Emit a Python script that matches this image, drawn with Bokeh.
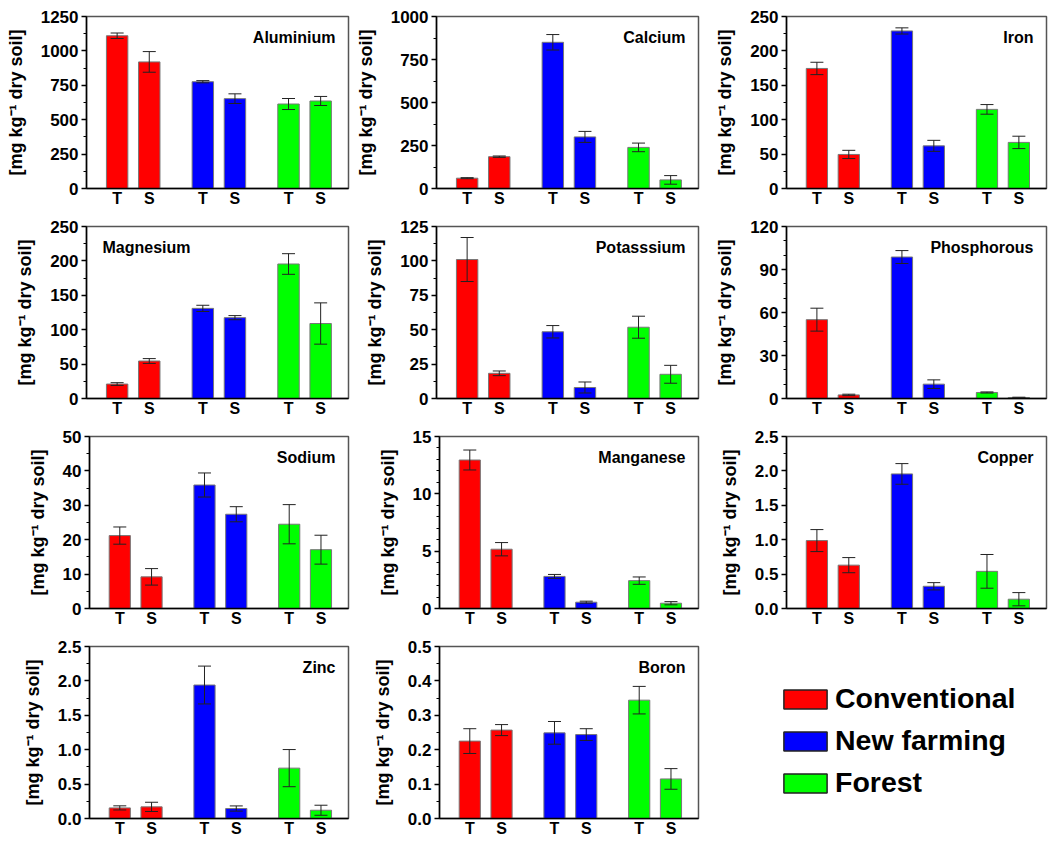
from bokeh.plotting import figure
from bokeh.models import (ColumnDataSource, Whisker, TeeHead, Label, Legend, LegendItem,
                          FixedTicker, Range1d, PrintfTickFormatter)
from bokeh.layouts import column, row
from bokeh.embed import file_html
from bokeh.resources import INLINE

# ---------------- data ----------------
systems = ["Conventional", "New farming", "Forest"]
colors = ["#FF0000", "#0000FF", "#00FF00"]
layers = ["T", "S"]

elements = ["Aluminium", "Calcium", "Iron", "Magnesium", "Potasssium", "Phosphorous",
            "Sodium", "Manganese", "Copper", "Zinc", "Boron"]

# order of values: Conventional T, Conventional S, New farming T, New farming S, Forest T, Forest S
aluminium = [1110, 920, 776, 653, 614, 636]
aluminium_err = [20, 75, 8, 35, 40, 33]
calcium = [60, 185, 850, 300, 239, 50]
calcium_err = [3, 4, 45, 32, 25, 25]
iron = [174.5, 49.5, 229, 62, 115, 67]
iron_err = [9, 6, 4.5, 8, 7, 9]
magnesium = [21, 54.5, 131, 117.5, 195.5, 109]
magnesium_err = [2, 3.5, 4.5, 3, 15, 30]
potassium = [101, 18.3, 48.5, 8, 51.8, 17.6]
potassium_err = [16, 1.7, 4.5, 4, 8, 6.5]
phosphorus = [55, 2.5, 98.7, 10, 4.2, 0.7]
phosphorus_err = [8, 0.5, 4.5, 3, 0.4, 0.2]
sodium = [21.2, 9.2, 35.9, 27.4, 24.5, 17.1]
sodium_err = [2.5, 2.4, 3.5, 2.2, 5.7, 4.2]
manganese = [12.95, 5.17, 2.8, 0.55, 2.43, 0.46]
manganese_err = [0.87, 0.58, 0.17, 0.09, 0.32, 0.14]
copper = [0.987, 0.63, 1.956, 0.323, 0.54, 0.135]
copper_err = [0.16, 0.11, 0.15, 0.053, 0.245, 0.096]
zinc = [0.154, 0.169, 1.94, 0.145, 0.732, 0.12]
zinc_err = [0.03, 0.067, 0.275, 0.038, 0.27, 0.073]
boron = [0.225, 0.257, 0.249, 0.244, 0.344, 0.115]
boron_err = [0.036, 0.016, 0.033, 0.017, 0.04, 0.03]

means = [aluminium, calcium, iron, magnesium, potassium, phosphorus,
         sodium, manganese, copper, zinc, boron]
errors = [aluminium_err, calcium_err, iron_err, magnesium_err, potassium_err, phosphorus_err,
          sodium_err, manganese_err, copper_err, zinc_err, boron_err]

y_max = [1250, 1000, 250, 250, 125, 120, 50, 15, 2.5, 2.5, 0.5]
y_step = [250, 250, 50, 50, 25, 30, 10, 5, 0.5, 0.5, 0.1]
y_minor_div = [2, 2, 2, 2, 2, 3, 2, 5, 2, 2, 2]
y_fmt = ["%d", "%d", "%d", "%d", "%d", "%d", "%d", "%d", "%.1f", "%.1f", "%.1f"]
title_left = [False, False, False, True, False, False, False, False, False, False, False]

y_label = "[mg kg\u207b\u00b9 dry soil]"

# ---------------- layout ----------------
FONT = "Liberation Sans"
col_w = [350, 350, 348]
frame_left = [86, 86, 86, 86, 86, 86, 89, 89, 86, 89, 89]
frame_right_edge = [348, 348, 346]
TOP = 16
FRAME_H = 172
BOTTOM = 22

GROUP_STEP = 8
LAYER_STEP = 3
positions = [g * GROUP_STEP + l * LAYER_STEP for g in range(len(systems)) for l in range(len(layers))]
bar_colors = [colors[g] for g in range(len(systems)) for _ in layers]
tick_labels = [layers[l] for _ in systems for l in range(len(layers))]


def make_panel(i):
    r, c = divmod(i, 3)
    left = frame_left[i]
    fw = frame_right_edge[c] - left
    p = figure(frame_width=fw, frame_height=FRAME_H, output_backend="svg", toolbar_location=None,
               min_border_left=left, min_border_right=col_w[c] - left - fw,
               min_border_top=TOP, min_border_bottom=BOTTOM,
               x_range=Range1d(-2.86, 21.6), y_range=Range1d(0, y_max[i]))
    p.background_fill_color = "white"
    p.border_fill_color = "white"
    p.grid.visible = False
    p.outline_line_color = "#555555"
    p.outline_line_width = 1.5

    m = means[i]
    e = errors[i]
    src = ColumnDataSource(dict(x=positions, top=m, color=bar_colors,
                                lower=[a - b for a, b in zip(m, e)],
                                upper=[a + b for a, b in zip(m, e)]))
    p.vbar(x="x", top="top", bottom=0, width=2.0, fill_color="color", line_color="#777777",
           line_width=1, source=src)
    w = Whisker(source=src, base="x", upper="upper", lower="lower", level="overlay",
                line_color="#222222", line_width=1,
                upper_head=TeeHead(size=13, line_color="#222222", line_width=1),
                lower_head=TeeHead(size=13, line_color="#222222", line_width=1))
    p.add_layout(w)

    # y axis
    ya = p.yaxis[0]
    ticks = []
    minors = []
    k = 0
    while k * y_step[i] <= y_max[i] + 1e-9:
        ticks.append(round(k * y_step[i], 6))
        k += 1
    for t in ticks[:-1]:
        for j in range(1, y_minor_div[i]):
            minors.append(t + j * y_step[i] / y_minor_div[i])
    ya.ticker = FixedTicker(ticks=ticks, minor_ticks=minors)
    ya.formatter = PrintfTickFormatter(format=y_fmt[i])
    ya.axis_line_color = "black"
    ya.axis_line_width = 1.5
    ya.major_tick_line_color = "black"
    ya.major_tick_line_width = 1.5
    ya.major_tick_out = 5
    ya.major_tick_in = 0
    ya.minor_tick_line_color = "black"
    ya.minor_tick_line_width = 1
    ya.minor_tick_out = 3
    ya.minor_tick_in = 0
    ya.major_label_text_font = FONT
    ya.major_label_text_font_style = "bold"
    ya.major_label_text_font_size = "17px"
    ya.major_label_text_color = "black"
    ya.major_label_standoff = 3
    ya.axis_label = y_label
    ya.axis_label_text_font = FONT
    ya.axis_label_text_font_style = "bold"
    ya.axis_label_text_font_size = "18px"
    ya.axis_label_text_color = "black"
    ya.axis_label_standoff = 12

    # x axis with T / S category labels
    xa = p.xaxis[0]
    xa.ticker = FixedTicker(ticks=positions)
    xa.major_label_overrides = {pos: lab for pos, lab in zip(positions, tick_labels)}
    xa.axis_line_color = "black"
    xa.axis_line_width = 1.5
    xa.major_tick_line_color = None
    xa.minor_tick_line_color = None
    xa.major_tick_out = 0
    xa.major_tick_in = 0
    xa.minor_tick_out = 0
    xa.major_label_text_font = FONT
    xa.major_label_text_font_style = "bold"
    xa.major_label_text_font_size = "16px"
    xa.major_label_text_color = "black"
    xa.major_label_standoff = 1

    if title_left[i]:
        lab = Label(x=16, y=FRAME_H - 12, x_units="screen", y_units="screen", text=elements[i],
                    text_align="left", text_baseline="top")
    else:
        lab = Label(x=fw - 13, y=FRAME_H - 12, x_units="screen", y_units="screen", text=elements[i],
                    text_align="right", text_baseline="top")
    lab.text_font = FONT
    lab.text_font_style = "bold"
    lab.text_font_size = "16px"
    lab.text_color = "black"
    p.add_layout(lab)
    return p


panels = [make_panel(i) for i in range(len(elements))]

# legend panel
lg = figure(width=col_w[2], height=TOP + FRAME_H + BOTTOM + 1, output_backend="svg",
            toolbar_location=None, x_axis_type=None, y_axis_type=None,
            x_range=Range1d(0, 1), y_range=Range1d(0, 1), min_border=0)
lg.outline_line_color = None
lg.grid.visible = False
items = []
for s, col in zip(systems, colors):
    rr = lg.vbar(x=[5], top=[0], width=0.1, fill_color=col, line_color="#222222", line_width=1.5)
    items.append(LegendItem(label=s, renderers=[rr]))
legend = Legend(items=items, location=(78, 20), glyph_width=54, glyph_height=24,
                label_text_font=FONT, label_text_font_style="bold", label_text_font_size="28.5px",
                label_text_color="black", label_standoff=3, spacing=9, padding=0, margin=0,
                border_line_color=None, background_fill_alpha=0)
lg.add_layout(legend)

rows = [row(panels[0:3]), row(panels[3:6]), row(panels[6:9]), row(panels[9:11] + [lg])]
layout = column(rows)

open("out.html", "w").write(file_html(layout, INLINE))
